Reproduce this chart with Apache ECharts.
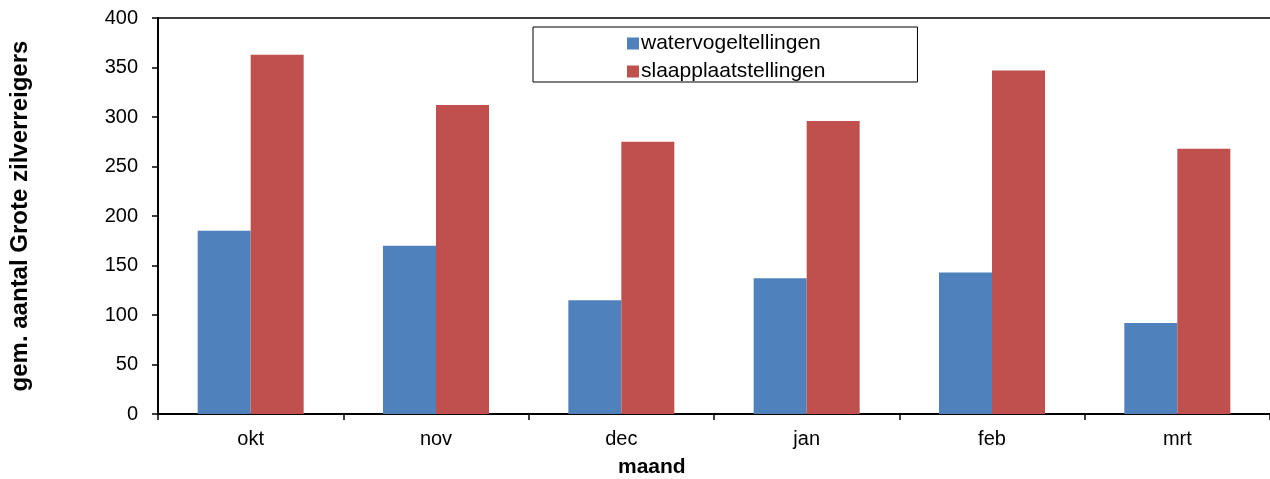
<!DOCTYPE html>
<html><head><meta charset="utf-8">
<script src="https://cdn.jsdelivr.net/npm/echarts@6/dist/echarts.min.js"></script>
<style>html,body{margin:0;padding:0;background:#fff}#c{width:1270px;height:479px}</style>
</head><body><div id="c"></div>
<script>
const categories = ['okt','nov','dec','jan','feb','mrt'];
const watervogeltellingen = [185, 170, 115, 137, 143, 92];
const slaapplaatstellingen = [363, 312, 275, 296, 347, 268];
const yTicks = {min:0, max:400, interval:50};

const chart = echarts.init(document.getElementById('c'));
const font = 'Liberation Sans, Arial, sans-serif';
chart.setOption({
  animation:false,
  textStyle:{fontFamily:font},
  grid:{left:158, right:0, top:18, bottom:65},
  legend:{
    orient:'vertical', left:533, top:27,
    padding:[6,92,0,94], itemGap:7,
    borderColor:'#000', borderWidth:1,
    itemWidth:12, itemHeight:12, icon:'rect',
    textStyle:{fontSize:21, color:'#000', fontFamily:font, lineHeight:20, padding:[0,0,0,-3]},
    data:['watervogeltellingen','slaapplaatstellingen']
  },
  xAxis:[{
    type:'category', data:categories,
    axisLine:{lineStyle:{color:'#000', width:2}},
    axisTick:{show:true, length:6, lineStyle:{color:'#000', width:1.5}},
    axisLabel:{color:'#000', fontSize:20, margin:15, fontFamily:font}
  },{
    type:'category', data:categories, position:'top',
    axisLine:{show:true, lineStyle:{color:'#000', width:1.5}},
    axisTick:{show:false}, axisLabel:{show:false}
  }],
  yAxis:{
    type:'value', min:yTicks.min, max:yTicks.max, interval:yTicks.interval,
    name:'gem. aantal Grote zilverreigers', nameLocation:'middle', nameRotate:90, nameGap:126,
    nameTextStyle:{fontSize:24, fontWeight:'bold', color:'#000', fontFamily:font},
    axisLine:{show:true, lineStyle:{color:'#000', width:2}},
    axisTick:{show:true, length:6, lineStyle:{color:'#000', width:1.5}},
    axisLabel:{color:'#000', fontSize:20, margin:20, fontFamily:font},
    splitLine:{show:false}
  },
  graphic:[{type:'text', left:618, top:457, style:{text:'maand', fontSize:21, fontWeight:'bold', fill:'#000', fontFamily:font}}],
  series:[
    {name:'watervogeltellingen', type:'bar', data:watervogeltellingen, barWidth:53, barGap:'0%', itemStyle:{color:'#4F81BD'}},
    {name:'slaapplaatstellingen', type:'bar', data:slaapplaatstellingen, barWidth:53, barGap:'0%', itemStyle:{color:'#C0504D'}}
  ]
});
</script></body></html>
